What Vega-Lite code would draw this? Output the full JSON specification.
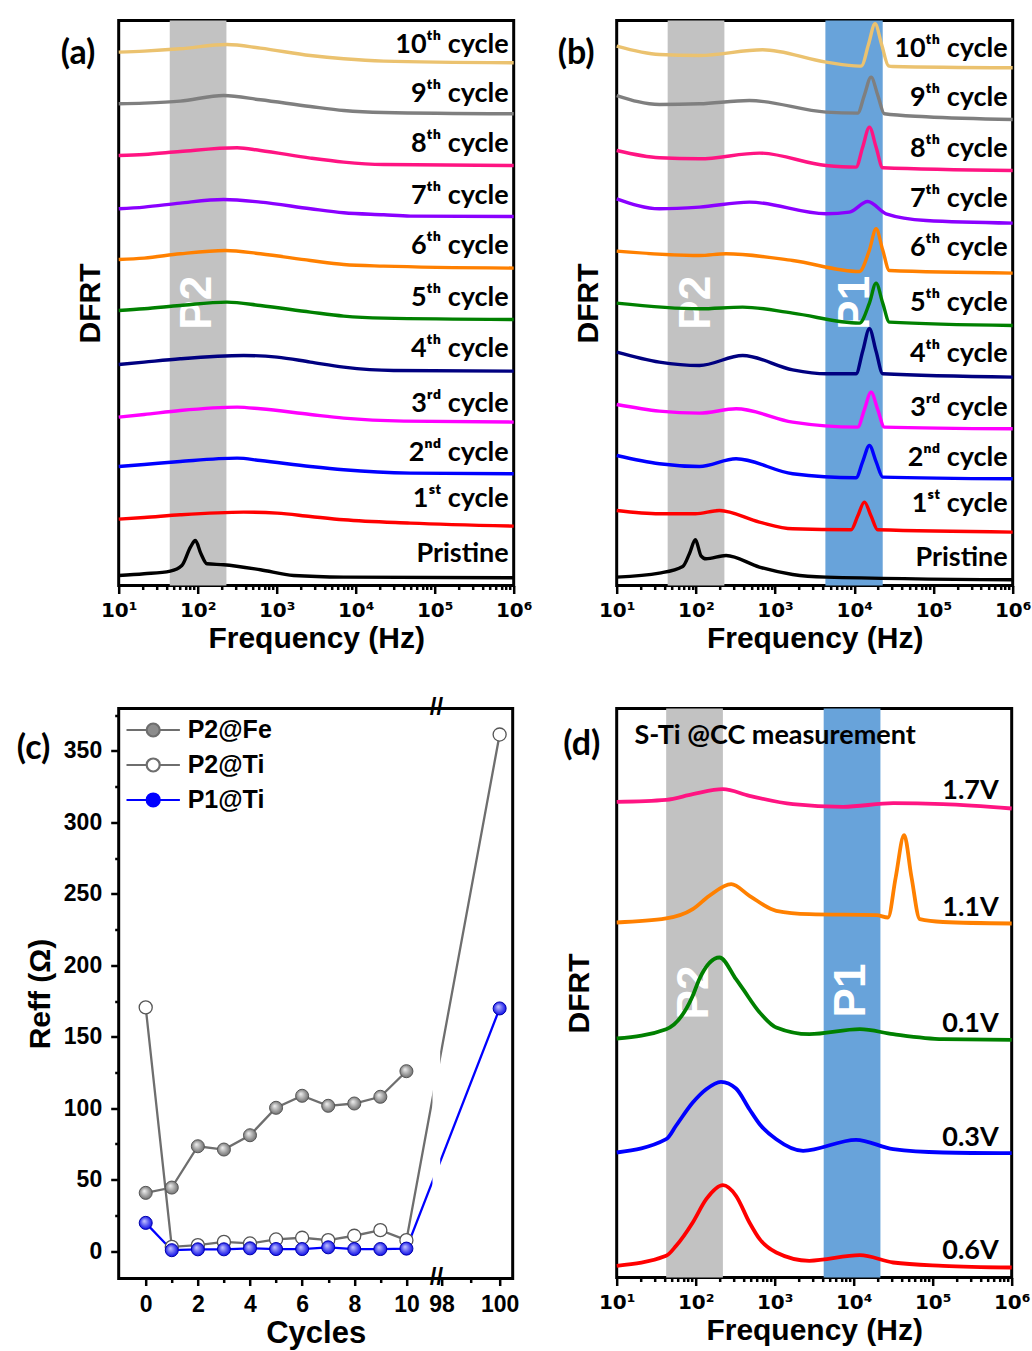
{
  "$schema": "https://vega.github.io/schema/vega-lite/v6.json",
  "padding": {"left": 14.7, "top": 14.5, "right": 0, "bottom": 0},
  "background": "white",
  "columns": 2,
  "spacing": {"row": 118, "column": 102},
  "bounds": "flush",
  "align": "all",
  "resolve": {"scale": {"color": "independent", "x": "independent", "y": "independent"}, "legend": {"color": "independent"}},
  "config": {
    "view": {"stroke": "black", "strokeWidth": 3},
    "font": "Liberation Sans",
    "axis": {"labelColor": "black", "titleColor": "black", "tickColor": "black", "grid": false, "domain": false, "labelFontWeight": "bold", "titleFontWeight": "bold", "labelFont": "Liberation Sans", "titleFont": "Liberation Sans"}
  },
  "datasets": {
    "reff": [
      {"s": "P2@Fe", "c": 0, "r": 40.8}, {"s": "P2@Fe", "c": 1, "r": 44.5}, {"s": "P2@Fe", "c": 2, "r": 73.4}, {"s": "P2@Fe", "c": 3, "r": 71.1}, {"s": "P2@Fe", "c": 4, "r": 81.1}, {"s": "P2@Fe", "c": 5, "r": 100.3}, {"s": "P2@Fe", "c": 6, "r": 108.7}, {"s": "P2@Fe", "c": 7, "r": 101.7}, {"s": "P2@Fe", "c": 8, "r": 103.3}, {"s": "P2@Fe", "c": 9, "r": 108}, {"s": "P2@Fe", "c": 10, "r": 125.9},
      {"s": "P2@Ti", "c": 0, "r": 170.5}, {"s": "P2@Ti", "c": 1, "r": 3}, {"s": "P2@Ti", "c": 2, "r": 4.2}, {"s": "P2@Ti", "c": 3, "r": 6.5}, {"s": "P2@Ti", "c": 4, "r": 5.4}, {"s": "P2@Ti", "c": 5, "r": 8.2}, {"s": "P2@Ti", "c": 6, "r": 9.4}, {"s": "P2@Ti", "c": 7, "r": 7.7}, {"s": "P2@Ti", "c": 8, "r": 10.8}, {"s": "P2@Ti", "c": 9, "r": 14.7}, {"s": "P2@Ti", "c": 10, "r": 7.7}, {"s": "P2@Ti", "c": 100, "r": 361.4},
      {"s": "P1@Ti", "c": 0, "r": 19.8}, {"s": "P1@Ti", "c": 1, "r": 0.7}, {"s": "P1@Ti", "c": 2, "r": 1.3}, {"s": "P1@Ti", "c": 3, "r": 1.3}, {"s": "P1@Ti", "c": 4, "r": 2.0}, {"s": "P1@Ti", "c": 5, "r": 1.5}, {"s": "P1@Ti", "c": 6, "r": 1.5}, {"s": "P1@Ti", "c": 7, "r": 2.7}, {"s": "P1@Ti", "c": 8, "r": 1.5}, {"s": "P1@Ti", "c": 9, "r": 1.5}, {"s": "P1@Ti", "c": 10, "r": 1.8}, {"s": "P1@Ti", "c": 100, "r": 169.8}
    ]
  },
  "concat": [
    {
      "width": 395, "height": 565,
      "encoding": {
        "x": {"field": "f", "type": "quantitative", "scale": {"type": "log", "domain": [10, 1000000], "nice": false},
          "axis": {"values": [10,20,30,40,50,60,70,80,90,100,200,300,400,500,600,700,800,900,1000,2000,3000,4000,5000,6000,7000,8000,9000,10000,20000,30000,40000,50000,60000,70000,80000,90000,100000,200000,300000,400000,500000,600000,700000,800000,900000,1000000],
            "labelExpr": "datum.value == 10 ? '10¹' : datum.value == 100 ? '10²' : datum.value == 1000 ? '10³' : datum.value == 10000 ? '10⁴' : datum.value == 100000 ? '10⁵' : datum.value == 1000000 ? '10⁶' : ''",
            "tickSize": {"condition": {"test": "indexof([10,100,1000,10000,100000,1000000], datum.value) >= 0", "value": 8}, "value": 4},
            "tickWidth": 2.5, "labelFont": "DejaVu Sans", "labelFontSize": 20, "labelPadding": 7, "labelOverlap": false, "labelFlush": false, "labelBound": false,
            "title": "Frequency (Hz)", "titleFontSize": 30, "titlePadding": 3}},
        "y": {"field": "v", "type": "quantitative", "scale": {"domain": [-3.7, 561.3], "nice": false, "zero": false},
          "axis": {"title": "DFRT", "labels": false, "ticks": false, "titleFontSize": 30, "titlePadding": 13}}
      },
      "layer": [
        {"data": {"values": [{"f": 44.3, "f2": 231, "v": -3.7, "v2": 561.3}]}, "mark": {"type": "rect", "fill": "#c2c2c2"}, "encoding": {"x2": {"field": "f2"}, "y2": {"field": "v2"}}},
        {"data": {"values": [{"t": "P2", "f": 100, "v": 279}]}, "mark": {"type": "text", "angle": 270, "align": "center", "baseline": "middle", "fontSize": 44, "fontWeight": "bold", "color": "white"}, "encoding": {"text": {"field": "t"}}},
        {"data": {"values": [
          {"s":"10th","f":10,"v":529.7},{"s":"10th","f":21,"v":530.7},{"s":"10th","f":60,"v":533},{"s":"10th","f":235,"v":537.3},{"s":"10th","f":622,"v":533.7},{"s":"10th","f":2670,"v":526.3},{"s":"10th","f":7050,"v":523},{"s":"10th","f":22600,"v":520.7},{"s":"10th","f":1000000,"v":519},
          {"s":"9th","f":10,"v":478},{"s":"9th","f":21,"v":478.7},{"s":"9th","f":60,"v":480.7},{"s":"9th","f":213,"v":486.3},{"s":"9th","f":622,"v":482},{"s":"9th","f":2670,"v":475.3},{"s":"9th","f":7050,"v":471.3},{"s":"9th","f":22600,"v":469.3},{"s":"9th","f":1000000,"v":468},
          {"s":"8th","f":10,"v":426.3},{"s":"8th","f":21,"v":427.3},{"s":"8th","f":60,"v":430.3},{"s":"8th","f":315,"v":434},{"s":"8th","f":622,"v":431.3},{"s":"8th","f":2670,"v":423.7},{"s":"8th","f":7050,"v":419.7},{"s":"8th","f":22600,"v":417.3},{"s":"8th","f":1000000,"v":416.3},
          {"s":"7th","f":10,"v":373},{"s":"7th","f":21,"v":374.7},{"s":"7th","f":60,"v":378.7},{"s":"7th","f":213,"v":382.3},{"s":"7th","f":622,"v":379.7},{"s":"7th","f":2670,"v":373},{"s":"7th","f":7050,"v":369},{"s":"7th","f":22600,"v":367},{"s":"7th","f":49200,"v":365.7},{"s":"7th","f":1000000,"v":365.3},
          {"s":"6th","f":10,"v":322.3},{"s":"6th","f":21,"v":323.7},{"s":"6th","f":60,"v":328},{"s":"6th","f":224,"v":331.3},{"s":"6th","f":622,"v":328},{"s":"6th","f":2670,"v":321.3},{"s":"6th","f":7050,"v":317.3},{"s":"6th","f":22600,"v":315.7},{"s":"6th","f":1000000,"v":313.7},
          {"s":"5th","f":10,"v":271.3},{"s":"5th","f":21,"v":273},{"s":"5th","f":60,"v":276.3},{"s":"5th","f":235,"v":279.7},{"s":"5th","f":622,"v":276.3},{"s":"5th","f":2670,"v":269.7},{"s":"5th","f":7050,"v":265.7},{"s":"5th","f":22600,"v":263.7},{"s":"5th","f":1000000,"v":262.3},
          {"s":"4th","f":10,"v":217.3},{"s":"4th","f":21,"v":219.7},{"s":"4th","f":60,"v":223},{"s":"4th","f":382,"v":226.3},{"s":"4th","f":1012,"v":224.7},{"s":"4th","f":2670,"v":219.7},{"s":"4th","f":7050,"v":214.7},{"s":"4th","f":30200,"v":211.3},{"s":"4th","f":1000000,"v":210.7},
          {"s":"3rd","f":10,"v":164.7},{"s":"3rd","f":21,"v":167.3},{"s":"3rd","f":60,"v":171.3},{"s":"3rd","f":315,"v":174.7},{"s":"3rd","f":622,"v":173},{"s":"3rd","f":2670,"v":167.3},{"s":"3rd","f":7050,"v":163.7},{"s":"3rd","f":40500,"v":160.7},{"s":"3rd","f":1000000,"v":159.7},
          {"s":"2nd","f":10,"v":115.3},{"s":"2nd","f":21,"v":117.3},{"s":"2nd","f":60,"v":120.3},{"s":"2nd","f":315,"v":123.7},{"s":"2nd","f":622,"v":121.3},{"s":"2nd","f":2670,"v":115.3},{"s":"2nd","f":7050,"v":112},{"s":"2nd","f":49200,"v":108.7},{"s":"2nd","f":1000000,"v":108},
          {"s":"1st","f":10,"v":62.7},{"s":"1st","f":21,"v":64.3},{"s":"1st","f":60,"v":67},{"s":"1st","f":382,"v":69.7},{"s":"1st","f":1012,"v":68.7},{"s":"1st","f":2670,"v":65.3},{"s":"1st","f":7050,"v":62},{"s":"1st","f":49200,"v":58.7},{"s":"1st","f":1000000,"v":55.7},
          {"s":"Pristine","f":10,"v":6.3},{"s":"Pristine","f":21,"v":8},{"s":"Pristine","f":45,"v":10.7},{"s":"Pristine","f":63,"v":16.3},{"s":"Pristine","f":81,"v":34.7},{"s":"Pristine","f":93.5,"v":41.3},{"s":"Pristine","f":110,"v":28},{"s":"Pristine","f":131,"v":18},{"s":"Pristine","f":213,"v":17},{"s":"Pristine","f":622,"v":12},{"s":"Pristine","f":1640,"v":6.3},{"s":"Pristine","f":7050,"v":4.7},{"s":"Pristine","f":1000000,"v":4}
        ]},
          "mark": {"type": "line", "interpolate": "monotone", "strokeWidth": 3.4},
          "encoding": {"color": {"field": "s", "type": "nominal", "legend": null, "scale": {"domain": ["10th","9th","8th","7th","6th","5th","4th","3rd","2nd","1st","Pristine"], "range": ["#EBC26F","#7F7F7F","#FF1482","#8A00FF","#FF8000","#008000","#000080","#FF00FF","#0000FF","#FF0000","#000000"]}}}},
        {"data": {"values": [
          {"label": "10ᵗʰ cycle", "f": 1000000, "v": 529}, {"label": "9ᵗʰ cycle", "f": 1000000, "v": 479.7}, {"label": "8ᵗʰ cycle", "f": 1000000, "v": 429.7}, {"label": "7ᵗʰ cycle", "f": 1000000, "v": 378}, {"label": "6ᵗʰ cycle", "f": 1000000, "v": 328}, {"label": "5ᵗʰ cycle", "f": 1000000, "v": 276.3}, {"label": "4ᵗʰ cycle", "f": 1000000, "v": 224.7}, {"label": "3ʳᵈ cycle", "f": 1000000, "v": 169.7}, {"label": "2ⁿᵈ cycle", "f": 1000000, "v": 121.3}, {"label": "1ˢᵗ cycle", "f": 1000000, "v": 74.7}, {"label": "Pristine", "f": 1000000, "v": 19.7}
        ]}, "mark": {"type": "text", "align": "right", "baseline": "alphabetic", "dx": -5, "font": "Lato", "fontSize": 27, "fontWeight": "bold", "color": "black"}, "encoding": {"text": {"field": "label"}}},
        {"data": {"values": [{"t": "(a)", "f": 3.06, "v": 528}]}, "mark": {"type": "text", "align": "center", "baseline": "middle", "font": "Lato", "fontSize": 34, "fontWeight": "bold", "color": "black"}, "encoding": {"text": {"field": "t"}}}
      ]
    },
    {
      "width": 396, "height": 565,
      "encoding": {
        "x": {"field": "f", "type": "quantitative", "scale": {"type": "log", "domain": [10, 1000000], "nice": false},
          "axis": {"values": [10,20,30,40,50,60,70,80,90,100,200,300,400,500,600,700,800,900,1000,2000,3000,4000,5000,6000,7000,8000,9000,10000,20000,30000,40000,50000,60000,70000,80000,90000,100000,200000,300000,400000,500000,600000,700000,800000,900000,1000000],
            "labelExpr": "datum.value == 10 ? '10¹' : datum.value == 100 ? '10²' : datum.value == 1000 ? '10³' : datum.value == 10000 ? '10⁴' : datum.value == 100000 ? '10⁵' : datum.value == 1000000 ? '10⁶' : ''",
            "tickSize": {"condition": {"test": "indexof([10,100,1000,10000,100000,1000000], datum.value) >= 0", "value": 8}, "value": 4},
            "tickWidth": 2.5, "labelFont": "DejaVu Sans", "labelFontSize": 20, "labelPadding": 7, "labelOverlap": false, "labelFlush": false, "labelBound": false,
            "title": "Frequency (Hz)", "titleFontSize": 30, "titlePadding": 3}},
        "y": {"field": "v", "type": "quantitative", "scale": {"domain": [-3.7, 561.3], "nice": false, "zero": false},
          "axis": {"title": "DFRT", "labels": false, "ticks": false, "titleFontSize": 30, "titlePadding": 13}}
      },
      "layer": [
        {"data": {"values": [{"f": 44, "f2": 229, "v": -3.7, "v2": 561.3}]}, "mark": {"type": "rect", "fill": "#c2c2c2"}, "encoding": {"x2": {"field": "f2"}, "y2": {"field": "v2"}}},
        {"data": {"values": [{"f": 4316, "f2": 22850, "v": -3.7, "v2": 561.3}]}, "mark": {"type": "rect", "fill": "#68a3da"}, "encoding": {"x2": {"field": "f2"}, "y2": {"field": "v2"}}},
        {"data": {"values": [{"t": "P2", "f": 103, "v": 279}, {"t": "P1", "f": 10500, "v": 279}]}, "mark": {"type": "text", "angle": 270, "align": "center", "baseline": "middle", "fontSize": 44, "fontWeight": "bold", "color": "white"}, "encoding": {"text": {"field": "t"}}},
        {"data": {"values": [
          {"s":"10th","f":10,"v":535.7},{"s":"10th","f":34.6,"v":527.3},{"s":"10th","f":111,"v":526.3},{"s":"10th","f":697,"v":532},{"s":"10th","f":4400,"v":519.7},{"s":"10th","f":11600,"v":515.7},{"s":"10th","f":12420,"v":516},{"s":"10th","f":15070,"v":537},{"s":"10th","f":18290,"v":558},{"s":"10th","f":22190,"v":537},{"s":"10th","f":26980,"v":516},{"s":"10th","f":30600,"v":515.3},{"s":"10th","f":1000000,"v":514},
          {"s":"9th","f":10,"v":486.3},{"s":"9th","f":34.6,"v":477.3},{"s":"9th","f":111,"v":478},{"s":"9th","f":474,"v":481.3},{"s":"9th","f":4400,"v":469.7},{"s":"9th","f":11050,"v":468.7},{"s":"9th","f":13410,"v":486.7},{"s":"9th","f":16290,"v":504.7},{"s":"9th","f":19770,"v":486.7},{"s":"9th","f":23990,"v":468},{"s":"9th","f":80700,"v":465},{"s":"9th","f":1000000,"v":462.3},
          {"s":"8th","f":10,"v":431.3},{"s":"8th","f":34.6,"v":424},{"s":"8th","f":111,"v":423},{"s":"8th","f":634,"v":428.7},{"s":"8th","f":4400,"v":416.3},{"s":"8th","f":10520,"v":414.7},{"s":"8th","f":12770,"v":434.7},{"s":"8th","f":15520,"v":454.7},{"s":"8th","f":18840,"v":434.7},{"s":"8th","f":22860,"v":414},{"s":"8th","f":1000000,"v":411.3},
          {"s":"7th","f":10,"v":383},{"s":"7th","f":34.6,"v":373},{"s":"7th","f":111,"v":374.7},{"s":"7th","f":474,"v":379.7},{"s":"7th","f":4400,"v":368},{"s":"7th","f":8670,"v":369.7},{"s":"7th","f":14780,"v":380.3},{"s":"7th","f":25180,"v":368},{"s":"7th","f":80700,"v":361.3},{"s":"7th","f":1000000,"v":358.7},
          {"s":"6th","f":10,"v":330.7},{"s":"6th","f":111,"v":326.3},{"s":"6th","f":240,"v":328},{"s":"6th","f":1667,"v":321.3},{"s":"6th","f":11600,"v":310.3},{"s":"6th","f":15520,"v":331.7},{"s":"6th","f":18840,"v":353},{"s":"6th","f":22860,"v":331.7},{"s":"6th","f":27730,"v":311.3},{"s":"6th","f":1000000,"v":308.7},
          {"s":"5th","f":10,"v":278.7},{"s":"5th","f":111,"v":273},{"s":"5th","f":390,"v":274.7},{"s":"5th","f":1667,"v":268.7},{"s":"5th","f":11600,"v":258.7},{"s":"5th","f":15520,"v":278.7},{"s":"5th","f":18840,"v":298.7},{"s":"5th","f":22860,"v":278.7},{"s":"5th","f":27730,"v":259.7},{"s":"5th","f":1000000,"v":256.3},
          {"s":"4th","f":10,"v":229.7},{"s":"4th","f":34.6,"v":219.7},{"s":"4th","f":111,"v":216.3},{"s":"4th","f":390,"v":226.3},{"s":"4th","f":1667,"v":212},{"s":"4th","f":4400,"v":208},{"s":"4th","f":10520,"v":208},{"s":"4th","f":12770,"v":230.5},{"s":"4th","f":15520,"v":253},{"s":"4th","f":18840,"v":230.5},{"s":"4th","f":22860,"v":208},{"s":"4th","f":1000000,"v":204.7},
          {"s":"3rd","f":10,"v":177.3},{"s":"3rd","f":34.6,"v":170.7},{"s":"3rd","f":111,"v":168.7},{"s":"3rd","f":322,"v":173},{"s":"3rd","f":1667,"v":159.7},{"s":"3rd","f":11050,"v":154.7},{"s":"3rd","f":13410,"v":172.2},{"s":"3rd","f":16290,"v":189.7},{"s":"3rd","f":19770,"v":172.2},{"s":"3rd","f":23990,"v":154.7},{"s":"3rd","f":1000000,"v":153},
          {"s":"2nd","f":10,"v":126.3},{"s":"2nd","f":34.6,"v":118},{"s":"2nd","f":111,"v":115.3},{"s":"2nd","f":322,"v":123},{"s":"2nd","f":1667,"v":108},{"s":"2nd","f":10520,"v":104},{"s":"2nd","f":12770,"v":120.2},{"s":"2nd","f":15520,"v":136.3},{"s":"2nd","f":18840,"v":120.2},{"s":"2nd","f":22860,"v":104.7},{"s":"2nd","f":1000000,"v":103},
          {"s":"1st","f":10,"v":71.3},{"s":"1st","f":34.6,"v":68},{"s":"1st","f":98.6,"v":68},{"s":"1st","f":198,"v":71.3},{"s":"1st","f":634,"v":59.7},{"s":"1st","f":1667,"v":53},{"s":"1st","f":9100,"v":52},{"s":"1st","f":11050,"v":65.8},{"s":"1st","f":13410,"v":79.7},{"s":"1st","f":16290,"v":65.8},{"s":"1st","f":19770,"v":52},{"s":"1st","f":1000000,"v":49.7},
          {"s":"Pristine","f":10,"v":4.7},{"s":"Pristine","f":34.6,"v":8.7},{"s":"Pristine","f":68.2,"v":15.3},{"s":"Pristine","f":82.8,"v":28},{"s":"Pristine","f":98.6,"v":42},{"s":"Pristine","f":116,"v":26},{"s":"Pristine","f":134,"v":23},{"s":"Pristine","f":240,"v":26.3},{"s":"Pristine","f":634,"v":14.7},{"s":"Pristine","f":1667,"v":7.3},{"s":"Pristine","f":4400,"v":4.7},{"s":"Pristine","f":1000000,"v":2}
        ]},
          "mark": {"type": "line", "interpolate": "monotone", "strokeWidth": 3.4},
          "encoding": {"color": {"field": "s", "type": "nominal", "legend": null, "scale": {"domain": ["10th","9th","8th","7th","6th","5th","4th","3rd","2nd","1st","Pristine"], "range": ["#EBC26F","#7F7F7F","#FF1482","#8A00FF","#FF8000","#008000","#000080","#FF00FF","#0000FF","#FF0000","#000000"]}}}},
        {"data": {"values": [
          {"label": "10ᵗʰ cycle", "f": 1000000, "v": 524.7}, {"label": "9ᵗʰ cycle", "f": 1000000, "v": 476.3}, {"label": "8ᵗʰ cycle", "f": 1000000, "v": 424.7}, {"label": "7ᵗʰ cycle", "f": 1000000, "v": 374.7}, {"label": "6ᵗʰ cycle", "f": 1000000, "v": 326.3}, {"label": "5ᵗʰ cycle", "f": 1000000, "v": 271.3}, {"label": "4ᵗʰ cycle", "f": 1000000, "v": 219.7}, {"label": "3ʳᵈ cycle", "f": 1000000, "v": 166.3}, {"label": "2ⁿᵈ cycle", "f": 1000000, "v": 116.3}, {"label": "1ˢᵗ cycle", "f": 1000000, "v": 69.7}, {"label": "Pristine", "f": 1000000, "v": 16.3}
        ]}, "mark": {"type": "text", "align": "right", "baseline": "alphabetic", "dx": -5, "font": "Lato", "fontSize": 27, "fontWeight": "bold", "color": "black"}, "encoding": {"text": {"field": "label"}}},
        {"data": {"values": [{"t": "(b)", "f": 3.08, "v": 528}]}, "mark": {"type": "text", "align": "center", "baseline": "middle", "font": "Lato", "fontSize": 34, "fontWeight": "bold", "color": "black"}, "encoding": {"text": {"field": "t"}}}
      ]
    },
    {
      "width": 394, "height": 570,
      "encoding": {
        "x": {"field": "c", "type": "quantitative", "scale": {"domain": [-1.036, 11.15, 97.82, 100.45], "range": [0, 317.7, 317.7, 394], "nice": false, "zero": false},
          "axis": {"values": [0,1,2,3,4,5,6,7,8,9,10,98,99,100], "labelExpr": "datum.value % 2 == 0 ? datum.label : ''",
            "tickSize": {"condition": {"test": "datum.value % 2 == 0", "value": 7}, "value": 4},
            "tickWidth": 2.5, "labelFontSize": 23, "labelPadding": 8, "labelOverlap": false, "labelFlush": false, "labelBound": false,
            "title": "Cycles", "titleFontSize": 31, "titlePadding": 2}},
        "y": {"field": "r", "type": "quantitative", "scale": {"domain": [-19.1, 379.6], "nice": false, "zero": false},
          "axis": {"values": [0,25,50,75,100,125,150,175,200,225,250,275,300,325,350,375], "labelExpr": "datum.value % 50 == 0 ? datum.label : ''",
            "tickSize": {"condition": {"test": "datum.value % 50 == 0", "value": 8}, "value": 4},
            "tickWidth": 2.5, "labelFontSize": 23, "labelPadding": 9, "labelOverlap": false, "labelFlush": false, "labelBound": false,
            "title": "Reff (Ω)", "titleFontSize": 30, "titlePadding": 8}}
      },
      "layer": [
        {"data": {"name": "reff"}, "mark": {"type": "line", "strokeWidth": 2.3},
          "encoding": {"color": {"field": "s", "type": "nominal", "scale": {"domain": ["P2@Fe", "P2@Ti", "P1@Ti"], "range": ["#6e6e6e", "#6e6e6e", "#0000ff"]},
            "legend": {"orient": "top-left", "title": null, "offset": 9, "padding": 0,
              "symbolType": "M-2.67,0L-0.65,0M0.65,0L2.67,0M-0.65,0A0.65,0.65,0,1,1,0.65,0A0.65,0.65,0,1,1,-0.65,0Z",
              "symbolSize": 400, "symbolStrokeWidth": 2.2, "symbolOffset": 13, "labelOffset": 22, "rowPadding": 9,
              "labelFont": "Liberation Sans", "labelFontSize": 25, "labelFontWeight": "bold", "labelColor": "black",
              "encode": {"symbols": {"update": {"fill": {"signal": "datum.value === 'P2@Ti' ? '#ffffff' : datum.value === 'P2@Fe' ? '#8c8c8c' : '#0000ff'"}, "fillOpacity": {"value": 1}}}}}}}},
        {"data": {"values": [{"c": 11.0, "c2": 97.95, "r": -15, "r2": 376}]}, "mark": {"type": "rect", "fill": "white"}, "encoding": {"x2": {"field": "c2"}, "y2": {"field": "r2"}}},
        {"data": {"name": "reff"}, "transform": [{"filter": "datum.s == 'P2@Ti'"}], "mark": {"type": "point", "filled": true, "size": 170, "fill": "white", "stroke": "#555555", "strokeWidth": 1.3, "opacity": 1}},
        {"data": {"name": "reff"}, "transform": [{"filter": "datum.s == 'P2@Fe'"}], "mark": {"type": "point", "filled": true, "size": 170, "stroke": "#555555", "strokeWidth": 1, "opacity": 1,
          "fill": {"gradient": "radial", "x1": 0.38, "y1": 0.35, "r1": 0, "x2": 0.5, "y2": 0.5, "r2": 0.55, "stops": [{"offset": 0, "color": "#f2f2f2"}, {"offset": 1, "color": "#666666"}]}}},
        {"data": {"name": "reff"}, "transform": [{"filter": "datum.s == 'P1@Ti'"}], "mark": {"type": "point", "filled": true, "size": 170, "stroke": "#0000aa", "strokeWidth": 1, "opacity": 1,
          "fill": {"gradient": "radial", "x1": 0.38, "y1": 0.35, "r1": 0, "x2": 0.5, "y2": 0.5, "r2": 0.55, "stops": [{"offset": 0, "color": "#c8c8ff"}, {"offset": 1, "color": "#0000e6"}]}}},
        {"data": {"values": [{"t": "//", "c": 11.15, "r": 379.6}, {"t": "//", "c": 11.15, "r": -19.1}]}, "mark": {"type": "text", "align": "center", "baseline": "middle", "fontSize": 24, "fontWeight": "bold", "color": "black"}, "encoding": {"text": {"field": "t"}}},
        {"data": {"values": [{"t": "(c)", "c": -4.3, "r": 351.6}]}, "mark": {"type": "text", "align": "center", "baseline": "middle", "font": "Lato", "fontSize": 34, "fontWeight": "bold", "color": "black"}, "encoding": {"text": {"field": "t"}}}
      ]
    },
    {
      "width": 395, "height": 569,
      "encoding": {
        "x": {"field": "f", "type": "quantitative", "scale": {"type": "log", "domain": [10, 1000000], "nice": false},
          "axis": {"values": [10,20,30,40,50,60,70,80,90,100,200,300,400,500,600,700,800,900,1000,2000,3000,4000,5000,6000,7000,8000,9000,10000,20000,30000,40000,50000,60000,70000,80000,90000,100000,200000,300000,400000,500000,600000,700000,800000,900000,1000000],
            "labelExpr": "datum.value == 10 ? '10¹' : datum.value == 100 ? '10²' : datum.value == 1000 ? '10³' : datum.value == 10000 ? '10⁴' : datum.value == 100000 ? '10⁵' : datum.value == 1000000 ? '10⁶' : ''",
            "tickSize": {"condition": {"test": "indexof([10,100,1000,10000,100000,1000000], datum.value) >= 0", "value": 8}, "value": 4},
            "tickWidth": 2.5, "labelFont": "DejaVu Sans", "labelFontSize": 20, "labelPadding": 7, "labelOverlap": false, "labelFlush": false, "labelBound": false,
            "title": "Frequency (Hz)", "titleFontSize": 30, "titlePadding": 3}},
        "y": {"field": "v", "type": "quantitative", "scale": {"domain": [0, 569], "nice": false, "zero": false},
          "axis": {"title": "DFRT", "labels": false, "ticks": false, "titleFontSize": 30, "titlePadding": 22}}
      },
      "layer": [
        {"data": {"values": [{"f": 42.3, "f2": 221, "v": 0, "v2": 569}]}, "mark": {"type": "rect", "fill": "#c2c2c2"}, "encoding": {"x2": {"field": "f2"}, "y2": {"field": "v2"}}},
        {"data": {"values": [{"f": 4170, "f2": 21800, "v": 0, "v2": 569}]}, "mark": {"type": "rect", "fill": "#68a3da"}, "encoding": {"x2": {"field": "f2"}, "y2": {"field": "v2"}}},
        {"data": {"values": [{"t": "P2", "f": 97, "v": 285}, {"t": "P1", "f": 9550, "v": 287}]}, "mark": {"type": "text", "angle": 270, "align": "center", "baseline": "middle", "fontSize": 44, "fontWeight": "bold", "color": "white"}, "encoding": {"text": {"field": "t"}}},
        {"data": {"values": [
          {"s":"1.7V","f":10,"v":475.7},{"s":"1.7V","f":42.3,"v":477.7},{"s":"1.7V","f":91.8,"v":483.3},{"s":"1.7V","f":221,"v":488.3},{"s":"1.7V","f":479,"v":481.7},{"s":"1.7V","f":1700,"v":473.3},{"s":"1.7V","f":7330,"v":470.7},{"s":"1.7V","f":31600,"v":474.3},{"s":"1.7V","f":135000,"v":473.3},{"s":"1.7V","f":1000000,"v":469},
          {"s":"1.1V","f":10,"v":355},{"s":"1.1V","f":42.3,"v":359},{"s":"1.1V","f":91.8,"v":368.3},{"s":"1.1V","f":149,"v":381.7},{"s":"1.1V","f":282,"v":393.3},{"s":"1.1V","f":479,"v":381.7},{"s":"1.1V","f":1047,"v":366.7},{"s":"1.1V","f":2750,"v":363.3},{"s":"1.1V","f":19500,"v":362.3},{"s":"1.1V","f":27200,"v":360},{"s":"1.1V","f":34000,"v":400},{"s":"1.1V","f":43500,"v":442.3},{"s":"1.1V","f":54000,"v":400},{"s":"1.1V","f":68700,"v":358.3},{"s":"1.1V","f":135000,"v":355.5},{"s":"1.1V","f":1000000,"v":354},
          {"s":"0.1V","f":10,"v":239},{"s":"0.1V","f":42.3,"v":248.3},{"s":"0.1V","f":91.8,"v":281.7},{"s":"0.1V","f":111,"v":298.3},{"s":"0.1V","f":200,"v":320},{"s":"0.1V","f":324,"v":298.3},{"s":"0.1V","f":398,"v":288.3},{"s":"0.1V","f":646,"v":265},{"s":"0.1V","f":1047,"v":250},{"s":"0.1V","f":2750,"v":243.3},{"s":"0.1V","f":12000,"v":248.3},{"s":"0.1V","f":31600,"v":243.3},{"s":"0.1V","f":135000,"v":238.3},{"s":"0.1V","f":1000000,"v":237.7},
          {"s":"0.3V","f":10,"v":125},{"s":"0.3V","f":42.3,"v":138.3},{"s":"0.3V","f":56.6,"v":152},{"s":"0.3V","f":91.8,"v":175},{"s":"0.3V","f":136,"v":188.3},{"s":"0.3V","f":209,"v":195.7},{"s":"0.3V","f":324,"v":189},{"s":"0.3V","f":479,"v":168.3},{"s":"0.3V","f":646,"v":153.3},{"s":"0.3V","f":1047,"v":138.3},{"s":"0.3V","f":2290,"v":126.7},{"s":"0.3V","f":10700,"v":137.7},{"s":"0.3V","f":31600,"v":128.3},{"s":"0.3V","f":135000,"v":125},{"s":"0.3V","f":1000000,"v":124.3},
          {"s":"0.6V","f":10,"v":11.7},{"s":"0.6V","f":42.3,"v":21.7},{"s":"0.6V","f":56.6,"v":31.7},{"s":"0.6V","f":91.8,"v":55},{"s":"0.6V","f":136,"v":78.3},{"s":"0.6V","f":221,"v":92.3},{"s":"0.6V","f":324,"v":81.7},{"s":"0.6V","f":479,"v":55},{"s":"0.6V","f":646,"v":38.3},{"s":"0.6V","f":1047,"v":25},{"s":"0.6V","f":2750,"v":16.7},{"s":"0.6V","f":12000,"v":22.3},{"s":"0.6V","f":31600,"v":15},{"s":"0.6V","f":135000,"v":11.7},{"s":"0.6V","f":1000000,"v":10}
        ]},
          "mark": {"type": "line", "interpolate": "monotone", "strokeWidth": 3.8},
          "encoding": {"color": {"field": "s", "type": "nominal", "legend": null, "scale": {"domain": ["1.7V","1.1V","0.1V","0.3V","0.6V"], "range": ["#FF1482","#FF8000","#008000","#0000FF","#FF0000"]}}}},
        {"data": {"values": [
          {"label": "1.7V", "f": 1000000, "v": 478.3}, {"label": "1.1V", "f": 1000000, "v": 361}, {"label": "0.1V", "f": 1000000, "v": 245}, {"label": "0.3V", "f": 1000000, "v": 131.7}, {"label": "0.6V", "f": 1000000, "v": 18.3}
        ]}, "mark": {"type": "text", "align": "right", "baseline": "alphabetic", "dx": -13, "font": "Lato", "fontSize": 27, "fontWeight": "bold", "color": "black"}, "encoding": {"text": {"field": "label"}}},
        {"data": {"values": [{"t": "S-Ti @CC measurement", "f": 16.8, "v": 533.3}]}, "mark": {"type": "text", "align": "left", "baseline": "alphabetic", "font": "Lato", "fontSize": 27, "fontWeight": "bold", "color": "black"}, "encoding": {"text": {"field": "t"}}},
        {"data": {"values": [{"t": "(d)", "f": 3.62, "v": 532}]}, "mark": {"type": "text", "align": "center", "baseline": "middle", "font": "Lato", "fontSize": 34, "fontWeight": "bold", "color": "black"}, "encoding": {"text": {"field": "t"}}}
      ]
    }
  ]
}
